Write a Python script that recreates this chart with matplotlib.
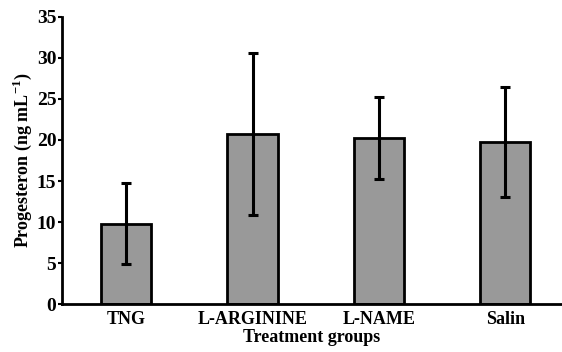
import matplotlib
matplotlib.use("Agg")
import matplotlib.pyplot as plt

groups = ["TNG", "L-ARGININE", "L-NAME", "Salin"]
means = [9.8, 20.7, 20.3, 19.7]
errors = [4.9, 9.9, 5.0, 6.7]
yticks = [0, 5, 10, 15, 20, 25, 30, 35]

plt.rcParams['font.family'] = ['Liberation Serif', 'DejaVu Serif']
plt.rcParams['font.weight'] = 'bold'
plt.rcParams['mathtext.fontset'] = 'custom'
plt.rcParams['mathtext.rm'] = 'Liberation Serif:bold'

fig = plt.figure(figsize=(5.62, 3.52), dpi=100)
ax = fig.add_axes([0.110, 0.136, 0.89, 0.816])

x = range(len(groups))
ax.bar(x, means, width=0.4, color='#999999', edgecolor='black', linewidth=2,
       yerr=errors, capsize=3.5,
       error_kw=dict(elinewidth=2.2, capthick=2.2, ecolor='black'))

ax.set_xlim(-0.51, 3.45)
ax.set_ylim(0, 35)
ax.set_yticks(yticks)
ax.set_xticks(list(x))
ax.set_xticklabels(groups)
ax.tick_params(axis='y', labelsize=14, width=1.5, length=3, pad=1)
ax.tick_params(axis='x', labelsize=13, length=0, pad=5)
for s in ['top', 'right']:
    ax.spines[s].set_visible(False)
for s in ['left', 'bottom']:
    ax.spines[s].set_linewidth(2)

ax.set_ylabel("Progesteron (ng mL$^{-1}$)", fontsize=13, fontweight='bold', labelpad=2)
ax.set_xlabel("Treatment groups", fontsize=13, fontweight='bold', labelpad=1)

fig.savefig("out.png", dpi=100)
